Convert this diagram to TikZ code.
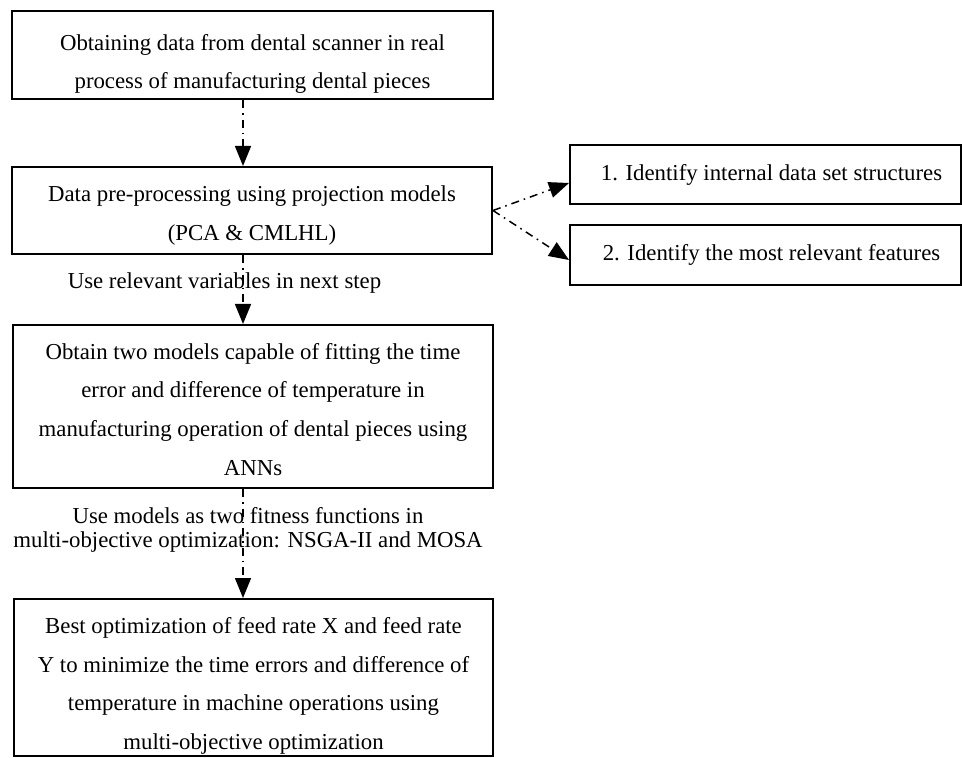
\documentclass[tikz,border=0pt]{standalone}
\usepackage{fontspec}
\setmainfont{Liberation Serif}
\usetikzlibrary{arrows.meta}

% invisible strut that pushes the first line of a box down
\newcommand{\toppad}[1]{\rule{0pt}{#1}}

\begin{document}
\begin{tikzpicture}[
    x=0.5pt,
    y=-0.5pt,
    box/.style={
        draw=black,
        line width=1pt,
        align=center,
        inner sep=0pt,
        font=\fontsize{11.4}{19.4}\selectfont
    },
    flow/.style={
        line width=0.75pt,
        dash pattern=on 4pt off 2.5pt on 0.8pt off 2.5pt,
        -{Triangle[width=8pt,length=10pt]}
    },
    note/.style={
        align=center,
        inner sep=0pt,
        font=\fontsize{11.4}{12}\selectfont
    }
]

\useasboundingbox (0,0) rectangle (962,758);

% Main column, top to bottom
\node[box, minimum width=240.5pt, minimum height=44pt] (scan) at (252.5,55)
    {\toppad{17pt}Obtaining data from dental scanner in real\\
     process of manufacturing dental pieces};

\node[box, minimum width=240pt, minimum height=43.5pt] (prep) at (252,210.5)
    {\toppad{13pt}Data pre-processing using projection models\\
     (PCA \& CMLHL)};

\node[box, minimum width=240pt, minimum height=81.5pt] (ann) at (253,406.5)
    {\toppad{11pt}Obtain two models capable of fitting the time\\
     error and difference of temperature in\\
     manufacturing operation of dental pieces using\\
     ANNs};

\node[box, minimum width=239.5pt, minimum height=78.5pt] (opt) at (253.5,677.5)
    {\toppad{16.5pt}Best optimization of feed rate X and feed rate\\
     Y to minimize the time errors and difference of\\
     temperature in machine operations using\\
     multi-objective optimization};

% Side boxes
\node[box, minimum width=195.5pt, minimum height=29.5pt] (struct) at (765.5,174.5)
    {\hspace*{6pt}1. Identify internal data set structures};
\node[box, minimum width=195.5pt, minimum height=30pt] (feat) at (765.5,255)
    {\hspace*{6pt}2. Identify the most relevant features};

% Labels on the connectors
\node[note] (varnote) at (224.5,283) {Use relevant variables in next step};
\node[note] (fitnote) at (248,530)
    {Use models as two fitness functions in\\
     multi-objective optimization: NSGA-II and MOSA};

% Connectors
\draw[flow] ([xshift=-4.75pt]scan.south) -- ([xshift=-4.5pt]prep.north);
\draw[flow] ([xshift=-4.5pt]prep.south) -- ([xshift=-5pt]ann.north);
\draw[flow] ([xshift=-5pt]ann.south) -- ([xshift=-5.25pt]opt.north);
\draw[flow] (prep.east) -- ([yshift=-4.25pt]struct.west);
\draw[flow] (prep.east) -- ([yshift=-2.5pt]feat.west);

\end{tikzpicture}
\end{document}
